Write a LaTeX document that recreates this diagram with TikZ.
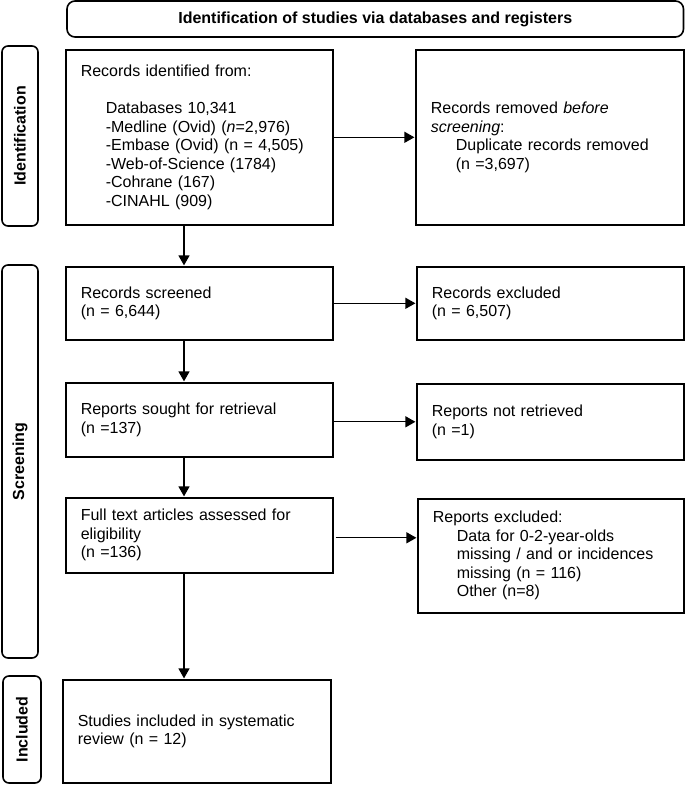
\documentclass[tikz,border=0pt]{standalone}
\usepackage{fontspec}
\setmainfont{Liberation Sans}
\usetikzlibrary{arrows.meta,calc}
\newcommand{\myind}{\hspace*{25pt}}
\begin{document}
\begin{tikzpicture}[x=1pt,y=-1pt,
  box/.style={draw, line width=1.6pt, rectangle, align=left, inner xsep=15pt, inner ysep=0pt,
    font=\fontsize{16}{18.5}\selectfont, anchor=north west},
  lab/.style={draw, line width=1.6pt, rounded corners=6pt, rotate=90, inner sep=0pt,
    font=\bfseries\fontsize{16}{18}\selectfont},
  banner/.style={draw, line width=1.6pt, rounded corners=8pt, inner sep=0pt,
    font=\bfseries\fontsize{16}{18}\selectfont},
  arr/.style={line width=1.2pt, -{Triangle[length=10pt,width=11pt]}, shorten >=0.6pt}]
\useasboundingbox (0,0) rectangle (685,785);

% banner and side labels
\node[banner, minimum width=616.5pt, minimum height=36pt] (ban) at (375.25,19)
  {Identification of studies via databases and registers};
\node[lab, minimum width=180pt, minimum height=36pt] (lid) at (20,136) {Identification};
\node[lab, minimum width=393pt, minimum height=36pt] (lsc) at (20,461.5) {Screening};
\node[lab, minimum width=107pt, minimum height=38pt] (lin) at (22,729.5) {Included};

% boxes
\node[box, text width=237pt, minimum height=175pt] (b1) at (65,49)
  {Records identified from:\\[18.5pt]
   \myind Databases 10,341\\
   \myind -Medline (Ovid) (\textit{n}=2,976)\\
   \myind -Embase (Ovid) (n = 4,505)\\
   \myind -Web-of-Science (1784)\\
   \myind -Cohrane (167)\\
   \myind -CINAHL (909)};
\node[box, text width=238pt, minimum height=175pt] (b2) at (415,49)
  {Records removed \textit{before}\\
   \textit{screening}:\\
   \myind Duplicate records removed\\
   \myind (n =3,697)};
\node[box, text width=237pt, minimum height=73pt] (b3) at (65,266)
  {Records screened\\(n = 6,644)};
\node[box, text width=237pt, minimum height=73pt] (b4) at (416,266)
  {Records excluded\\(n = 6,507)};
\node[box, text width=237pt, minimum height=74pt] (b5) at (65,382)
  {Reports sought for retrieval\\(n =137)};
\node[box, text width=237pt, minimum height=76pt] (b6) at (416,383)
  {Reports not retrieved\\(n =1)};
\node[box, text width=237pt, minimum height=75pt] (b7) at (65,497)
  {Full text articles assessed for\\eligibility\\(n =136)};
\node[box, text width=236pt, minimum height=114pt] (b8) at (417,498)
  {Reports excluded:\\
   \hspace*{24pt}Data for 0-2-year-olds\\
   \hspace*{24pt}missing / and or incidences\\
   \hspace*{24pt}missing (n = 116)\\
   \hspace*{24pt}Other (n=8)};
\node[box, text width=238pt, minimum height=103pt] (b9) at (62,679)
  {Studies included in systematic\\review (n = 12)};

% connectors
\coordinate (cx) at (184,0);
\draw[arr] (b1.south -| cx) -- (b3.north -| cx);
\draw[arr] (b3.south -| cx) -- (b5.north -| cx);
\draw[arr] (b5.south -| cx) -- (b7.north -| cx);
\draw[arr] (b7.south -| cx) -- (b9.north -| cx);
\draw[arr] (b1.east) -- (b2.west);
\draw[arr] (b3.east) -- (b4.west);
\draw[arr] ($(b5.east)+(0,2)$) -- ($(b5.east -| b6.west)+(0,2)$);
\draw[arr] ($(b7.east)+(2,2.5)$) -- ($(b7.east -| b8.west)+(0,2.5)$);
\end{tikzpicture}
\end{document}
